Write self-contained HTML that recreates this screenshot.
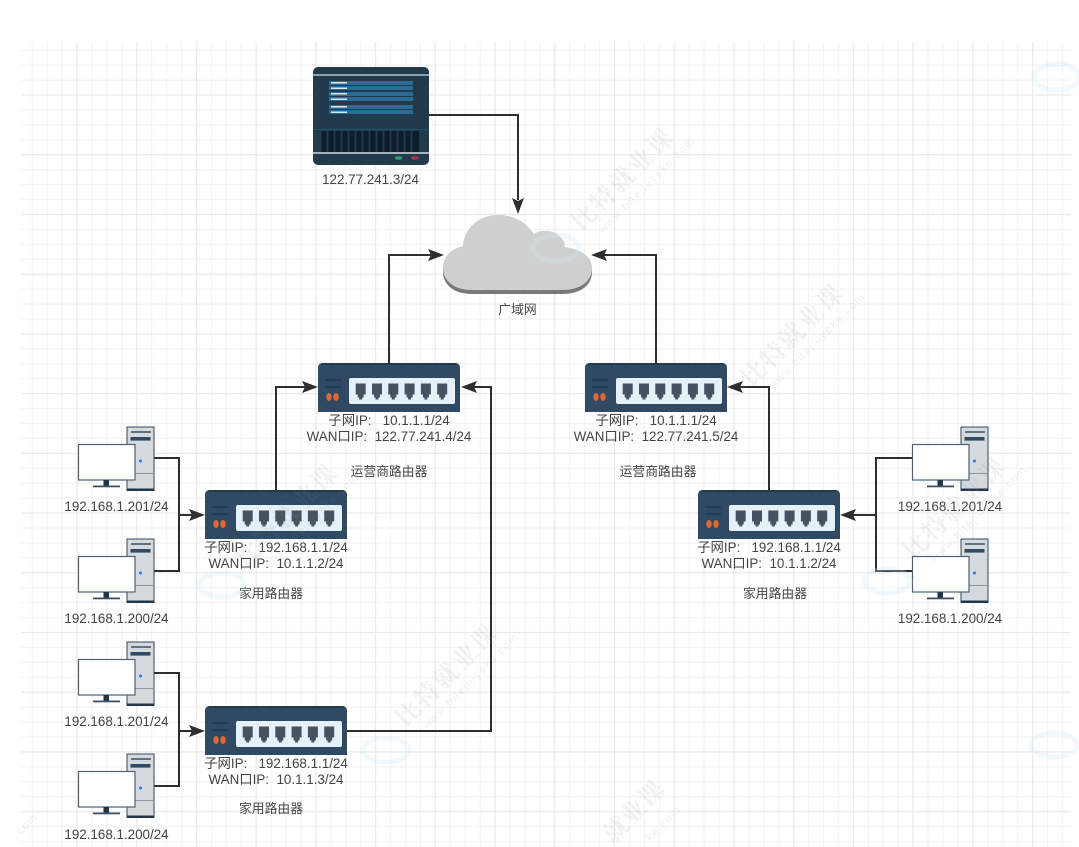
<!DOCTYPE html>
<html>
<head>
<meta charset="utf-8">
<style>
html,body{margin:0;padding:0;background:#fff;width:1079px;height:847px;overflow:hidden}
svg{display:block}
text{font-family:"Liberation Sans","Noto Sans CJK SC",sans-serif;fill:#444;white-space:pre}
.t{font-size:13.4px;text-anchor:middle}
.c{font-size:12.8px;text-anchor:middle}
.w{font-family:"Noto Serif CJK SC","Noto Sans CJK SC",sans-serif;font-size:25px;font-weight:700;fill:#888;fill-opacity:.11;text-anchor:middle}
.u{font-size:11px;fill:#888;fill-opacity:.13;text-anchor:middle;letter-spacing:1.5px}
.l{fill:none;stroke:#2e2e2e;stroke-width:2}
</style>
</head>
<body>
<svg width="1079" height="847" viewBox="0 0 1079 847" xmlns="http://www.w3.org/2000/svg">
<defs>
<pattern id="grid" patternUnits="userSpaceOnUse" x="17.3" y="35.3" width="59.72" height="59.72">
  <g stroke="#f3f3f3" stroke-width="1.2" fill="none">
    <path d="M14.93 0V59.72M29.86 0V59.72M44.79 0V59.72M0 14.93H59.72M0 29.86H59.72M0 44.79H59.72"/>
  </g>
  <g stroke="#e9e9e9" stroke-width="1.2" fill="none">
    <path d="M59.72 0V59.72M0 59.72H59.72M0 0H59.72M0 0V59.72"/>
  </g>
</pattern>
<g id="port">
  <path d="M0 0H10V11H8V14H6.5V16H3.500V14H2V11H0Z" fill="#465261"/>
</g>
<g id="router">
  <path d="M0 49V5Q0 0 5 0H137Q142 0 142 5V49Z" fill="#2f4a62"/>
  <path d="M3 1H139" stroke="#1e3547" stroke-width="1.4"/>
  <path d="M7 17H23M7 24H23" stroke="#1f3244" stroke-width="1.2"/>
  <ellipse cx="11" cy="34" rx="2.7" ry="4" fill="#e0682f"/>
  <ellipse cx="18" cy="34" rx="2.7" ry="4" fill="#e0682f"/>
  <rect x="31" y="15" width="106" height="26" rx="2" fill="#e4f1f9"/>
  <use href="#port" x="37.700" y="20.500"/>
  <use href="#port" x="54" y="20.500"/>
  <use href="#port" x="70.300" y="20.500"/>
  <use href="#port" x="86.600" y="20.500"/>
  <use href="#port" x="102.900" y="20.500"/>
  <use href="#port" x="119.200" y="20.500"/>
</g>
<g id="pc">
  <rect x="127" y="0" width="27" height="63.500" fill="#d5dadf" stroke="#33475a" stroke-width="1"/>
  <rect x="127" y="61.500" width="27" height="2.500" fill="#22364a"/>
  <path d="M131 5H151" stroke="#3b5064" stroke-width="1.400"/>
  <rect x="130.500" y="10" width="20" height="3.600" fill="#2f4a62"/>
  <path d="M127 46.500H154" stroke="#8a97a3" stroke-width="1"/>
  <circle cx="140.500" cy="34" r="1.500" fill="#2f73e0"/>
  <rect x="78.500" y="17.500" width="56.500" height="35.500" fill="#fff" stroke="#4e6172" stroke-width="1.200"/>
  <rect x="103.500" y="53" width="5.500" height="6" fill="#1f3548"/>
  <rect x="93" y="58.500" width="27" height="1.800" fill="#3b5064"/>
</g>
<g id="wm">
  <text class="w" x="0" y="0" transform="rotate(-45)" textLength="132">比特就业课</text>
  <text class="u" x="14" y="16" transform="rotate(-45)">www.bitejiuyeke.com</text>
</g>
<path id="cloud" d="M472 290C453 290 443 280 443 268C443 256 451 249 463 246C464 228 479 215 498 215C514 215 526 222 534 234C541 229 556 229 563 240C565 243 565 245 564 247C580 249 592 256 592 268C592 281 581 290 562 290Z"/>
</defs>

<rect x="21" y="42" width="1050" height="805" fill="url(#grid)"/>

<!-- connectors -->
<g>
  <path class="l" d="M429 115H518V200"/>
  <path class="l" d="M389 363V255H432"/>
  <path class="l" d="M656 363V255H603"/>
  <path class="l" d="M276 490V387H307"/>
  <path class="l" d="M769 490V387H738"/>
  <path class="l" d="M347 731H491V387H472"/>
  <path class="l" d="M154 458H179V571H154M179 515H194"/>
  <path class="l" d="M154 673H179V786H154M179 731H194"/>
  <path class="l" d="M912 458H876V571H912M876 515H851"/>
</g>
<g fill="#2e2e2e">
  <path d="M518 214L512 198L518 201L524 198Z"/>
  <path d="M444 255L428 249L431 255L428 261Z"/>
  <path d="M591 255L607 249L604 255L607 261Z"/>
  <path d="M318 387L302 381L305 387L302 393Z"/>
  <path d="M727 387L743 381L740 387L743 393Z"/>
  <path d="M461 387L477 381L474 387L477 393Z"/>
  <path d="M205 515L189 509L192 515L189 521Z"/>
  <path d="M205 731L189 725L192 731L189 737Z"/>
  <path d="M840 515L856 509L853 515L856 521Z"/>
</g>

<!-- server -->
<rect x="313" y="67" width="116" height="98" rx="5" fill="#213b4d"/>
<path d="M313 75H429" stroke="#b6c6cf" stroke-width="1.600"/>
<path d="M313 129.500H429" stroke="#1f5570" stroke-width="1"/>
<rect x="321.500" y="131" width="97.500" height="21" fill="#0c1c2b"/>
<g fill="#20394b">
  <rect x="326.500" y="131" width="2" height="21"/><rect x="333.500" y="131" width="2" height="21"/><rect x="340.500" y="131" width="2" height="21"/><rect x="347.500" y="131" width="2" height="21"/><rect x="354.500" y="131" width="2" height="21"/><rect x="361.500" y="131" width="2" height="21"/><rect x="368.500" y="131" width="2" height="21"/><rect x="375.500" y="131" width="2" height="21"/><rect x="382.500" y="131" width="2" height="21"/><rect x="389.500" y="131" width="2" height="21"/><rect x="396.500" y="131" width="2" height="21"/><rect x="403.500" y="131" width="2" height="21"/><rect x="410.500" y="131" width="2" height="21"/>
</g>
<path d="M313 153H429" stroke="#cfdbe1" stroke-width="1.600"/>
<g fill="#2a6c94">
  <rect x="329" y="81" width="84" height="4"/><rect x="329" y="86" width="84" height="4"/>
  <rect x="329" y="92" width="84" height="4"/><rect x="329" y="97" width="84" height="4"/>
  <rect x="329" y="105" width="84" height="4"/><rect x="329" y="110" width="84" height="4"/>
</g>
<g fill="#d5e8f0">
  <rect x="331" y="82" width="16" height="1.500"/><rect x="331" y="87.500" width="16" height="1.500"/>
  <rect x="331" y="93" width="16" height="1.500"/><rect x="331" y="98.500" width="16" height="1.500"/>
  <rect x="331" y="106" width="16" height="1.500"/><rect x="331" y="111.500" width="16" height="1.500"/>
</g>
<ellipse cx="398.500" cy="158" rx="4" ry="1.800" fill="#2f9e76"/>
<ellipse cx="415" cy="158" rx="4" ry="1.800" fill="#b32e55"/>

<!-- cloud -->
<use href="#cloud" y="4" fill="#77797a"/>
<use href="#cloud" fill="#cdd0cf"/>

<!-- routers -->
<use href="#router" x="318" y="363"/>
<use href="#router" x="585" y="363"/>
<use href="#router" x="205" y="490"/>
<use href="#router" x="698" y="490"/>
<use href="#router" x="205" y="706"/>

<!-- computers -->
<use href="#pc" x="0" y="427"/>
<use href="#pc" x="0" y="539"/>
<use href="#pc" x="0" y="642"/>
<use href="#pc" x="0" y="754"/>
<use href="#pc" x="834" y="427"/>
<use href="#pc" x="834" y="539"/>

<!-- labels -->
<text class="t" x="370.500" y="184">122.77.241.3/24</text>
<text class="c" x="517.500" y="314">广域网</text>

<text class="t" x="389" y="425">子网IP:   10.1.1.1/24</text>
<text class="t" x="389" y="441">WAN口IP:  122.77.241.4/24</text>
<text class="c" x="389" y="476">运营商路由器</text>

<text class="t" x="656" y="425">子网IP:   10.1.1.1/24</text>
<text class="t" x="656" y="441">WAN口IP:  122.77.241.5/24</text>
<text class="c" x="658" y="476">运营商路由器</text>

<text class="t" x="276" y="552">子网IP:   192.168.1.1/24</text>
<text class="t" x="276" y="568">WAN口IP:  10.1.1.2/24</text>
<text class="c" x="271" y="598">家用路由器</text>

<text class="t" x="769" y="552">子网IP:   192.168.1.1/24</text>
<text class="t" x="769" y="568">WAN口IP:  10.1.1.2/24</text>
<text class="c" x="775" y="598">家用路由器</text>

<text class="t" x="276" y="768">子网IP:   192.168.1.1/24</text>
<text class="t" x="276" y="784">WAN口IP:  10.1.1.3/24</text>
<text class="c" x="271" y="813">家用路由器</text>

<text class="t" x="116.500" y="511">192.168.1.201/24</text>
<text class="t" x="116.500" y="623">192.168.1.200/24</text>
<text class="t" x="116.500" y="726">192.168.1.201/24</text>
<text class="t" x="116.500" y="839">192.168.1.200/24</text>
<text class="t" x="950" y="511">192.168.1.201/24</text>
<text class="t" x="950" y="623">192.168.1.200/24</text>

<!-- watermarks overlay -->
<g>
  <use href="#wm" x="452" y="682"/>
  <use href="#wm" x="628" y="186"/>
  <use href="#wm" x="798" y="342"/>
  <use href="#wm" x="960" y="515"/>
  <use href="#wm" x="292" y="522"/>
  <text class="w" x="0" y="0" transform="translate(640 818) rotate(-45)">就业课</text>
  <text class="u" x="0" y="0" transform="translate(666 826) rotate(-45)">ke.com</text>
  <text class="u" x="0" y="0" transform="translate(28 828) rotate(-45)">.com</text>
  <g fill="none" stroke="#cfeaf6" stroke-opacity=".28" stroke-width="5">
    <ellipse cx="1057" cy="77" rx="23" ry="13"/>
    <ellipse cx="386" cy="750" rx="23" ry="12"/>
    <ellipse cx="222" cy="585" rx="23" ry="12"/>
    <ellipse cx="1054" cy="745" rx="23" ry="12"/>
    <ellipse cx="887" cy="581" rx="23" ry="12"/>
    <ellipse cx="556" cy="248" rx="23" ry="13"/>
  </g>
</g>
</svg>
</body>
</html>
